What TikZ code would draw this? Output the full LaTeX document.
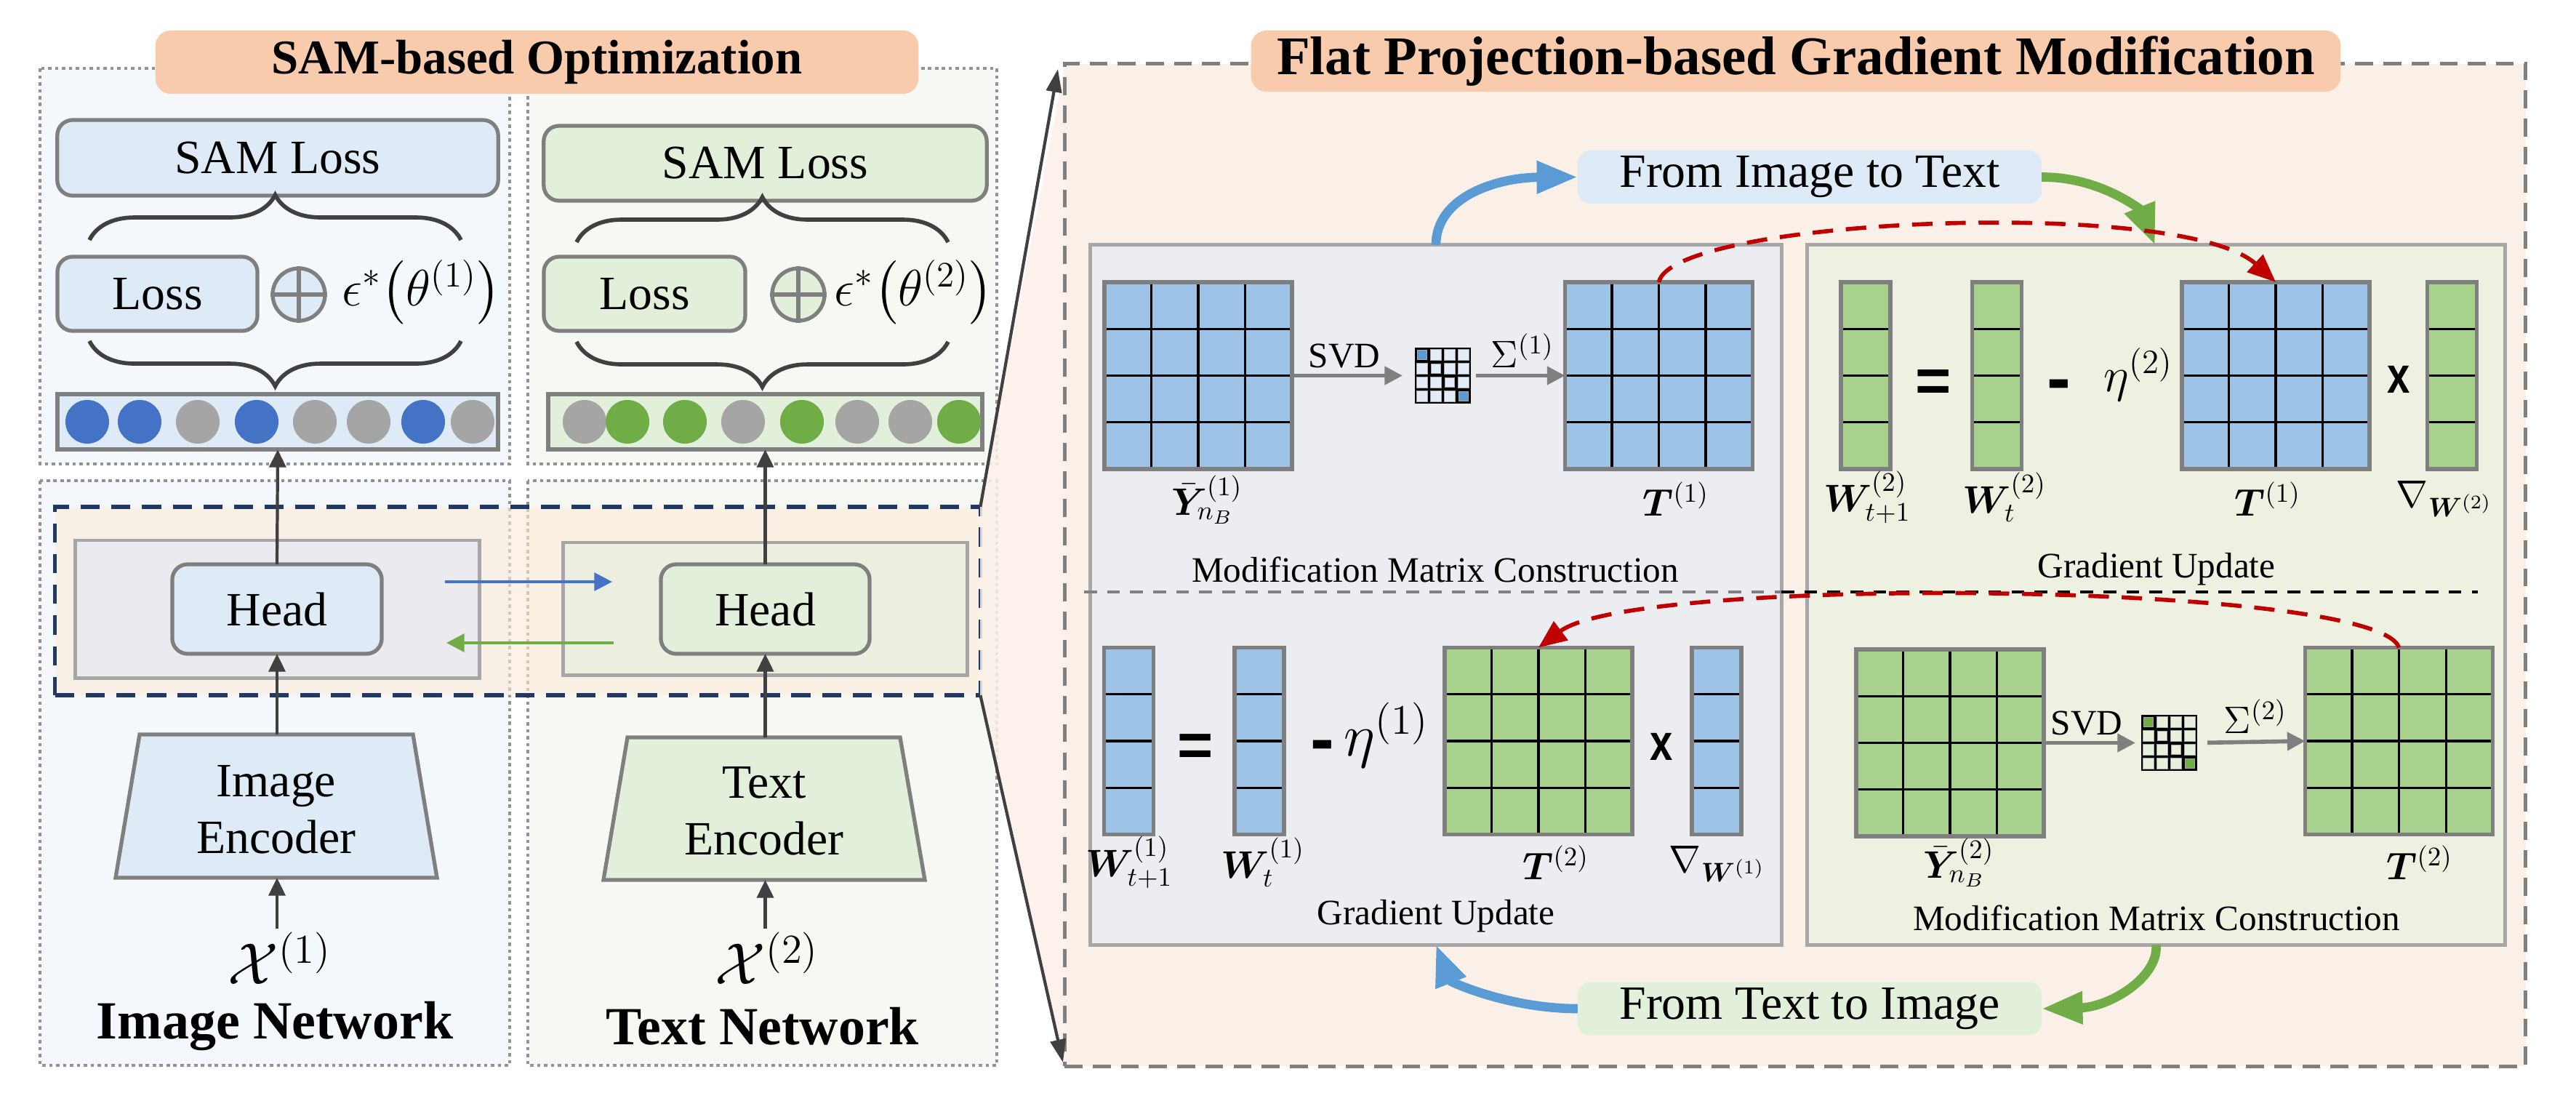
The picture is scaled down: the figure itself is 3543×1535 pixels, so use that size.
\RequirePackage{fix-cm}
\documentclass[tikz,border=0pt]{standalone}
\usepackage{amsmath,bm}
\usepackage[no-math]{fontspec}
\setmainfont{Liberation Serif}
\newfontfamily\sansf{Liberation Sans}
\usepackage{graphicx}
\usetikzlibrary{arrows.meta,calc,decorations.pathreplacing}
\definecolor{colA}{HTML}{F4F8FC}
\definecolor{colB}{HTML}{F6F8F3}
\definecolor{boxblue}{HTML}{DEEAF6}
\definecolor{boxgreen}{HTML}{E2EFDA}
\definecolor{bgray}{HTML}{7F7F7F}
\definecolor{lgray}{HTML}{A6A6A6}
\definecolor{dgray}{HTML}{404040}
\definecolor{torange}{HTML}{F8CBAD}
\definecolor{peach}{HTML}{FBF0E8}
\definecolor{peachn}{HTML}{FCE9D9}
\definecolor{navy}{HTML}{203864}
\definecolor{innA}{HTML}{EBEBEF}
\definecolor{innB}{HTML}{ECEFDF}
\definecolor{rbL}{HTML}{ECEDF1}
\definecolor{rbR}{HTML}{EEF0E2}
\definecolor{mblue}{HTML}{9DC3E6}
\definecolor{mgreen}{HTML}{A9D18E}
\definecolor{cblue}{HTML}{4472C4}
\definecolor{cgray}{HTML}{A5A5A5}
\definecolor{cgreen}{HTML}{70AD47}
\definecolor{ablue}{HTML}{5B9BD5}
\definecolor{ared}{HTML}{C00000}
\definecolor{lblue}{HTML}{E3ECF7}
\definecolor{lgreen}{HTML}{E7EFDD}
\definecolor{fitc}{HTML}{DEEBF7}
\definecolor{ftic}{HTML}{E2EFDA}

\newcommand\matlines[1]{%
  \foreach \k in {0.25,0.5,0.75}{%
    \draw[gridln] ($(#1.north west)!\k!(#1.north east)$) -- ($(#1.south west)!\k!(#1.south east)$);
    \draw[gridln] ($(#1.north west)!\k!(#1.south west)$) -- ($(#1.north east)!\k!(#1.south east)$);}
  \draw[matbd] (#1.north west) rectangle (#1.south east);}
\newcommand\veclines[1]{%
  \foreach \k in {0.25,0.5,0.75}{%
    \draw[gridln] ($(#1.north west)!\k!(#1.south west)$) -- ($(#1.north east)!\k!(#1.south east)$);}
  \draw[matbd] (#1.north west) rectangle (#1.south east);}
\newcommand\svdmat[5]{%
  \node[fill=black, inner sep=0pt, outer sep=0pt, minimum width=0.77cm, minimum height=0.77cm] (#1) at (#2,#3) {};
  \foreach \i in {0,1,2,3}{\foreach \j in {0,1,2,3}{%
    \ifnum\i=\j\relax\def\hs{6.3}\else\def\hs{7.7}\fi
    \def\cc{#5}%
    \ifnum\i=\j\relax\ifnum\i=0\relax\def\cc{#4}\fi\ifnum\i=3\relax\def\cc{#4}\fi\fi
    \filldraw[fill=\cc, draw=gray!70, line width=0.3pt] (#2-28.5+19*\i-\hs,#3-28.5+19*\j-\hs) rectangle (#2-28.5+19*\i+\hs,#3-28.5+19*\j+\hs);
  }}}

\begin{document}
\begin{tikzpicture}[x=0.01cm,y=-0.01cm,
  tb/.style={font=\fontsize{18.7}{22.2}\selectfont},
  sb/.style={font=\fontsize{14}{16.8}\selectfont, inner sep=0pt},
  lab/.style={font=\fontsize{15}{18}\selectfont, inner sep=0pt},
  rbox/.style={draw=bgray, line width=1.5pt, rounded corners=6pt, inner sep=0pt, outer sep=0pt},
  coldot/.style={draw=gray!85, line width=1.3pt, dash pattern=on 1.3pt off 1.4pt},
  ttl/.style={fill=torange, rounded corners=6pt, inner sep=0pt},
  darr/.style={draw=dgray, line width=1.2pt, -{Triangle[length=7pt,width=6.5pt]}},
  conn/.style={draw=dgray, line width=1.2pt, -{Triangle[length=9pt,width=6pt]}},
  harr/.style={line width=1.2pt, -{Triangle[length=7pt,width=7pt]}},
  garr/.style={draw=bgray, line width=1.6pt, -{Triangle[length=7pt,width=7pt]}},
  bigarr/.style={line width=3.6pt, -{Triangle[length=16pt,width=12pt]}},
  reddash/.style={draw=ared, line width=1.6pt, dash pattern=on 8pt off 5pt, -{Triangle[length=11pt,width=9pt]}},
  brc/.style={draw=dgray, line width=1.6pt, decorate},
  cnode/.style={circle, inner sep=0pt, minimum size=0.6cm},
  mat/.style={inner sep=0pt, outer sep=0pt, minimum width=2.58cm, minimum height=2.57cm},
  vec/.style={inner sep=0pt, outer sep=0pt, minimum width=0.68cm, minimum height=2.57cm},
  gridln/.style={black, line width=0.9pt},
  matbd/.style={draw=bgray, line width=1.6pt},
  eqf/.style={font=\sansf\bfseries\fontsize{24}{28}\selectfont, inner sep=0pt},
  mif/.style={font=\sansf\bfseries\fontsize{28}{32}\selectfont, inner sep=0pt},
  xf/.style={font=\sansf\bfseries\fontsize{20}{24}\selectfont, inner sep=0pt},
  fromb/.style={rounded corners=5pt, inner sep=0pt, outer sep=0pt, minimum width=6.38cm, minimum height=0.73cm, font=\fontsize{18.7}{22}\selectfont}
]
\useasboundingbox (0,0) rectangle (3543,1535);

% ---------------- left panel -----------------
\draw[coldot, fill=colA] (55,94) rectangle (701,638);
\draw[coldot, fill=colB] (726,94) rectangle (1371,638);
\draw[coldot, fill=colA] (55,661) rectangle (701,1465);
\draw[coldot, fill=colB] (726,661) rectangle (1371,1465);

\node[ttl, minimum width=10.49cm, minimum height=0.87cm, font=\bfseries\fontsize{19}{22}\selectfont] (t1) at (738.5,85.5) {SAM-based Optimization};

\node[rbox, fill=boxblue, minimum width=6.06cm, minimum height=1.04cm, tb] (samA) at (382,217) {SAM Loss};
\node[rbox, fill=boxgreen, minimum width=6.09cm, minimum height=1.03cm, tb] (samB) at (1052.5,224.5) {SAM Loss};

\draw[brc, decoration={brace, amplitude=0.62cm}] (123,330) -- (634,330);
\draw[brc, decoration={brace, amplitude=0.62cm}] (634,469) -- (123,469);
\draw[brc, decoration={brace, amplitude=0.62cm}] (793,333) -- (1304,333);
\draw[brc, decoration={brace, amplitude=0.62cm}] (1304,470) -- (793,470);

\node[rbox, fill=boxblue, minimum width=2.75cm, minimum height=1.02cm, tb] (lossA) at (216.5,404) {Loss};
\node[rbox, fill=boxgreen, minimum width=2.77cm, minimum height=1.02cm, tb] (lossB) at (886.5,404) {Loss};

\node[circle, draw=bgray, fill=boxblue, line width=1.5pt, minimum size=0.72cm, inner sep=0pt] (opA) at (411,405) {};
\draw[bgray, line width=1.8pt] (opA.north) -- (opA.south) (opA.west) -- (opA.east);
\node[circle, draw=bgray, fill=boxgreen, line width=1.5pt, minimum size=0.72cm, inner sep=0pt] (opB) at (1098,405) {};
\draw[bgray, line width=1.8pt] (opB.north) -- (opB.south) (opB.west) -- (opB.east);

\node[font=\fontsize{20}{24}\selectfont, inner sep=0pt] (epsA) at (580,402) {$\epsilon^{*}\bigl(\theta^{(1)}\bigr)$};
\node[font=\fontsize{20}{24}\selectfont, inner sep=0pt] (epsB) at (1257,402) {$\epsilon^{*}\bigl(\theta^{(2)}\bigr)$};

\node[draw=bgray, line width=1.8pt, fill=boxblue, minimum width=6.06cm, minimum height=0.76cm, inner sep=0pt, outer sep=0pt] (barA) at (382,580) {};
\node[draw=bgray, line width=1.8pt, fill=boxgreen, minimum width=5.97cm, minimum height=0.76cm, inner sep=0pt, outer sep=0pt] (barB) at (1052.5,580) {};
\foreach \x/\c [count=\n] in {120/cblue,192/cblue,272/cgray,353/cblue,433/cgray,507/cgray,582/cblue,650/cgray}
  \node[cnode, fill=\c] (ca\n) at (\x,580) {};
\foreach \x/\c [count=\n] in {804/cgray,863/cgreen,942/cgreen,1022/cgray,1103/cgreen,1179/cgray,1252/cgray,1319/cgreen}
  \node[cnode, fill=\c] (cb\n) at (\x,580) {};

% navy dashed region
\node[draw=navy, line width=1.6pt, dash pattern=on 7.5pt off 4.5pt, fill=peachn, fill opacity=0.6, minimum width=12.72cm, minimum height=2.59cm, inner sep=0pt, outer sep=0pt] (navy) at (712,826.5) {};
\node[draw=lgray, line width=1.4pt, fill=innA, minimum width=5.55cm, minimum height=1.89cm, inner sep=0pt, outer sep=0pt] (innerA) at (381.5,837.5) {};
\node[draw=lgray, line width=1.4pt, fill=innB, minimum width=5.55cm, minimum height=1.82cm, inner sep=0pt, outer sep=0pt] (innerB) at (1052.5,837) {};
\node[rbox, fill=boxblue, minimum width=2.88cm, minimum height=1.23cm, tb] (headA) at (381,837.5) {Head};
\node[rbox, fill=boxgreen, minimum width=2.87cm, minimum height=1.23cm, tb] (headB) at (1052.5,837.5) {Head};
\coordinate (ha1) at (612,800); \coordinate (ha2) at (842,800);
\coordinate (hb1) at (844,884); \coordinate (hb2) at (614,884);
\draw[harr, draw=cblue] (ha1) -- (ha2);
\draw[harr, draw=cgreen] (hb1) -- (hb2);

% encoders
\draw[draw=bgray, line width=1.5pt, fill=boxblue] (192,1010) -- (568,1010) -- (601,1207) -- (159,1207) -- cycle;
\draw[draw=bgray, line width=1.5pt, fill=boxgreen] (863,1014) -- (1238,1014) -- (1272,1210) -- (830,1210) -- cycle;
\node[tb, align=center, inner sep=0pt] (encA) at (380,1113) {Image\\Encoder};
\node[tb, align=center, inner sep=0pt] (encB) at (1051,1115) {Text\\Encoder};
\coordinate (encAtop) at (381,1010); \coordinate (encAbot) at (381,1207);
\coordinate (encBtop) at (1052.5,1014); \coordinate (encBbot) at (1052.5,1210);

\node[font=\fontsize{23}{27}\selectfont, inner sep=0pt] (xA) at (385,1318) {$\mathcal{X}^{(1)}$};
\node[font=\fontsize{23}{27}\selectfont, inner sep=0pt] (xB) at (1055,1318) {$\mathcal{X}^{(2)}$};
\node[font=\bfseries\fontsize{21}{25}\selectfont, inner sep=0pt] (netA) at (378,1411) {Image Network};
\node[font=\bfseries\fontsize{21}{25}\selectfont, inner sep=0pt] (netB) at (1049,1411) {Text Network};

\draw[darr] (381,1277) -- (encAbot);
\draw[darr] (encAtop) -- (headA.south);
\draw[darr] (headA.north) -- (barA.south);
\draw[darr] (1052.5,1277) -- (encBbot);
\draw[darr] (encBtop) -- (headB.south);
\draw[darr] (headB.north) -- (barB.south);

% funnel
\fill[peach, opacity=0.85] (1348,697) -- (1465,88) -- (1465,1466) -- (1348,956) -- cycle;

% ---------------- right panel -----------------
\node[draw=bgray, line width=1.5pt, dash pattern=on 7pt off 4pt, fill=peach, minimum width=20.08cm, minimum height=13.78cm, inner sep=0pt, outer sep=0pt] (panel) at (2469,777) {};
\node[ttl, minimum width=14.98cm, minimum height=0.84cm, font=\bfseries\fontsize{21.3}{25}\selectfont] (t2) at (2470,84) {Flat Projection-based Gradient Modification};

\coordinate (pTL) at (1455,95);
\coordinate (pBL) at (1462,1461);
\draw[conn] (navy.north east) -- (pTL);
\draw[conn] (navy.south east) -- (pBL);

\node[draw=lgray, line width=1.4pt, fill=rbL, minimum width=9.5cm, minimum height=9.62cm, inner sep=0pt, outer sep=0pt] (boxL) at (1975,818) {};
\node[draw=lgray, line width=1.4pt, fill=rbR, minimum width=9.59cm, minimum height=9.62cm, inner sep=0pt, outer sep=0pt] (boxR) at (2965.5,818) {};

\coordinate (dv1) at (1491,814); \coordinate (dv2) at (2450,814); \coordinate (dv3) at (3408,814);
\draw[gray, line width=1pt, dash pattern=on 5pt off 4pt] (dv1) -- (dv2);
\draw[black, line width=1pt, dash pattern=on 5pt off 4pt] (dv2) -- (dv3);

\node[fromb, fill=fitc] (fIT) at (2489,243.5) {From Image to Text};
\node[fromb, fill=ftic] (fTI) at (2489,1387) {From Text to Image};

% top-left block
\node[mat, fill=mblue] (Y1) at (1648,516.5) {}; \matlines{Y1}
\node[mat, fill=mblue] (T1) at (2281.5,516.5) {}; \matlines{T1}
\svdmat{s1}{1984.5}{516.5}{ablue}{lblue}
\draw[garr, shorten >=0.17cm] (Y1.east) -- (s1.west);
\draw[garr, shorten <=0.07cm] (s1.east) -- (T1.west);
\node[sb] (svd1) at (1849,490) {SVD};
\node[lab] (sig1) at (2094,482) {$\Sigma^{(1)}$};
\node[lab] (lY1) at (1660,687) {$\bar{\bm Y}^{(1)}_{n_B}$};
\node[lab] (lT1) at (2305,686) {$\bm T^{(1)}$};
\node[sb] (cap1) at (1974,783) {Modification Matrix Construction};

% top-right block
\node[vec, fill=mgreen] (W2a) at (2566,516.5) {}; \veclines{W2a}
\node[vec, fill=mgreen] (W2b) at (2746.5,516.5) {}; \veclines{W2b}
\node[mat, fill=mblue] (T1b) at (3130,516.5) {}; \matlines{T1b}
\node[vec, fill=mgreen] (G2) at (3372.5,516.5) {}; \veclines{G2}
\node[eqf, anchor=base] (eq1) at (2659,552) {=};
\node[mif, anchor=base] (mi1) at (2832,553) {-};
\node[font=\fontsize{19}{22}\selectfont, inner sep=0pt] (eta2) at (2941,515) {$\eta^{(2)}$};
\node[xf, anchor=base] (x1) at (3299,540) {\scalebox{0.8}[1]{x}};
\node[lab] (lW2a) at (2568,684) {$\bm W^{(2)}_{t+1}$};
\node[lab] (lW2b) at (2757,684) {$\bm W^{(2)}_{t}$};
\node[lab] (lT1b) at (3119,686) {$\bm T^{(1)}$};
\node[lab] (lG2) at (3362,686) {$\nabla_{\bm W^{(2)}}$};
\node[sb] (cap2) at (2966,783) {Gradient Update};

% bottom-left block
\node[vec, fill=mblue] (W1a) at (1552.5,1019) {}; \veclines{W1a}
\node[vec, fill=mblue] (W1b) at (1732,1019) {}; \veclines{W1b}
\node[mat, fill=mgreen] (T2) at (2116,1019) {}; \matlines{T2}
\node[vec, fill=mblue] (G1) at (2361,1019) {}; \veclines{G1}
\node[eqf, anchor=base] (eq2) at (1644,1053) {=};
\node[mif, anchor=base] (mi2) at (1819,1049) {-};
\node[font=\fontsize{23.5}{27}\selectfont, inner sep=0pt] (eta1) at (1907,1011) {$\eta^{(1)}$};
\node[xf, anchor=base] (x2) at (2285,1045) {\scalebox{0.8}[1]{x}};
\node[lab] (lW1a) at (1553,1186) {$\bm W^{(1)}_{t+1}$};
\node[lab] (lW1b) at (1737,1186) {$\bm W^{(1)}_{t}$};
\node[lab] (lT2) at (2140,1186) {$\bm T^{(2)}$};
\node[lab] (lG1) at (2362,1188) {$\nabla_{\bm W^{(1)}}$};
\node[sb] (cap3) at (1975,1260) {Gradient Update};

% bottom-right block
\node[mat, fill=mgreen] (Y2) at (2682,1021.5) {}; \matlines{Y2}
\node[mat, fill=mgreen] (T2b) at (3299.5,1019) {}; \matlines{T2b}
\svdmat{s2}{2983.5}{1021.5}{cgreen}{lgreen}
\draw[garr, shorten >=0.08cm] (Y2.east) -- (s2.west);
\draw[garr, shorten <=0.14cm] (s2.east) -- (T2b.west);
\node[sb] (svd2) at (2870,995) {SVD};
\node[lab] (sig2) at (3102,985) {$\Sigma^{(2)}$};
\node[lab] (lY2) at (2694,1186) {$\bar{\bm Y}^{(2)}_{n_B}$};
\node[lab] (lT2b) at (3328,1186) {$\bm T^{(2)}$};
\node[sb] (cap4) at (2966,1262) {Modification Matrix Construction};

% curved arrows
\coordinate (gTop) at (2964,337);
\draw[bigarr, draw=ablue] (boxL.north) .. controls (1975,270) and (2060,244) .. (fIT.west);
\draw[bigarr, draw=cgreen] (fIT.east) .. controls (2890,243) and (2945,290) .. (gTop);
\draw[bigarr, draw=ablue] (fTI.west) .. controls (2075,1387) and (1995,1350) .. (boxL.south);
\draw[bigarr, draw=cgreen] (boxR.south) .. controls (2969,1345) and (2900,1385) .. (fTI.east);
\draw[reddash] (T1.north) .. controls (2300,300) and (3000,270) .. (T1b.north);
\draw[reddash] (T2b.north) .. controls (3270,800) and (2250,790) .. (T2.north);
\end{tikzpicture}
\end{document}
